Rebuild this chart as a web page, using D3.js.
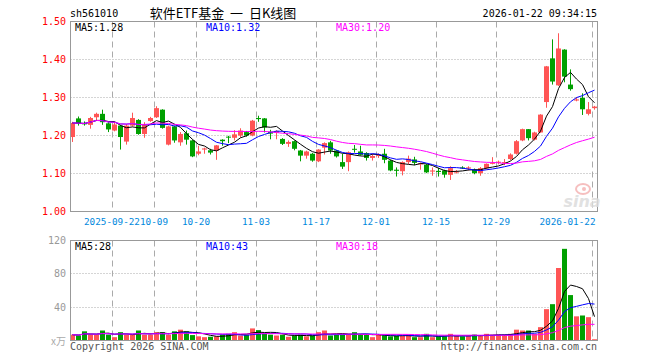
<!DOCTYPE html>
<html><head><meta charset="utf-8">
<script src="https://cdn.jsdelivr.net/npm/d3@7/dist/d3.min.js"></script>
<style>body{margin:0;background:#fff}svg{display:block}</style>
</head><body>
<svg id="chart" width="660" height="360"></svg>
<script>
const dates = ["2025-09-11","2025-09-12","2025-09-15","2025-09-16","2025-09-17","2025-09-18","2025-09-19","2025-09-22","2025-09-23","2025-09-24","2025-09-25","2025-09-26","2025-09-29","2025-09-30",
"2025-10-09","2025-10-10","2025-10-13","2025-10-14","2025-10-15","2025-10-16","2025-10-17","2025-10-20","2025-10-21","2025-10-22","2025-10-23","2025-10-24","2025-10-27","2025-10-28","2025-10-29","2025-10-30","2025-10-31",
"2025-11-03","2025-11-04","2025-11-05","2025-11-06","2025-11-07","2025-11-10","2025-11-11","2025-11-12","2025-11-13","2025-11-14","2025-11-17","2025-11-18","2025-11-19","2025-11-20","2025-11-21","2025-11-24","2025-11-25","2025-11-26","2025-11-27","2025-11-28",
"2025-12-01","2025-12-02","2025-12-03","2025-12-04","2025-12-05","2025-12-08","2025-12-09","2025-12-10","2025-12-11","2025-12-12","2025-12-15","2025-12-16","2025-12-17","2025-12-18","2025-12-19","2025-12-22","2025-12-23","2025-12-24","2025-12-25","2025-12-26","2025-12-29","2025-12-30","2025-12-31",
"2026-01-05","2026-01-06","2026-01-07","2026-01-08","2026-01-09","2026-01-12","2026-01-13","2026-01-14","2026-01-15","2026-01-16","2026-01-19","2026-01-20","2026-01-21","2026-01-22"];

const open  = [1.196,1.245,1.232,1.228,1.248,1.257,1.232,1.213,1.226,1.184,1.226,1.241,1.204,1.238,1.248,1.268,1.176,1.224,1.182,1.206,1.187,1.152,1.163,1.161,1.160,1.189,1.197,1.194,1.200,1.209,1.200,1.246,1.245,1.210,1.207,1.191,1.178,1.185,1.1605,1.147,1.152,1.132,1.168,1.182,1.1605,1.130,1.130,1.165,1.158,1.154,1.141,1.146,1.152,1.134,1.110,1.106,1.130,1.137,1.124,1.123,1.105,1.107,1.108,1.0965,1.103,1.116,1.113,1.110,1.101,1.114,1.1255,1.128,1.128,1.138,1.152,1.187,1.2167,1.189,1.208,1.288,1.403,1.332,1.426,1.334,1.292,1.299,1.257,1.272];
const high  = [1.236,1.250,1.237,1.249,1.260,1.268,1.235,1.235,1.228,1.230,1.260,1.243,1.235,1.249,1.277,1.269,1.226,1.226,1.209,1.213,1.189,1.173,1.168,1.165,1.175,1.190,1.199,1.214,1.219,1.212,1.241,1.252,1.246,1.215,1.214,1.193,1.187,1.187,1.162,1.160,1.154,1.164,1.182,1.186,1.162,1.152,1.158,1.175,1.173,1.156,1.151,1.153,1.165,1.136,1.116,1.132,1.147,1.144,1.129,1.125,1.116,1.115,1.110,1.119,1.109,1.119,1.119,1.113,1.117,1.1265,1.143,1.134,1.138,1.153,1.188,1.218,1.217,1.210,1.256,1.383,1.453,1.469,1.427,1.374,1.301,1.311,1.288,1.278];
const low   = [1.183,1.226,1.226,1.218,1.238,1.228,1.209,1.211,1.163,1.176,1.224,1.202,1.194,1.236,1.246,1.218,1.174,1.181,1.173,1.176,1.143,1.148,1.152,1.150,1.136,1.173,1.180,1.187,1.195,1.197,1.198,1.236,1.208,1.190,1.190,1.175,1.170,1.161,1.132,1.139,1.131,1.130,1.150,1.152,1.142,1.112,1.106,1.155,1.147,1.134,1.134,1.141,1.127,1.106,1.092,1.095,1.125,1.122,1.110,1.101,1.094,1.092,1.089,1.083,1.100,1.112,1.108,1.098,1.094,1.111,1.124,1.124,1.122,1.135,1.150,1.185,1.187,1.187,1.207,1.273,1.334,1.3305,1.340,1.318,1.290,1.254,1.253,1.268];
const close = [1.233,1.232,1.230,1.246,1.257,1.235,1.216,1.229,1.196,1.226,1.246,1.204,1.228,1.246,1.272,1.220,1.224,1.187,1.204,1.189,1.145,1.158,1.166,1.155,1.174,1.185,1.195,1.203,1.213,1.200,1.239,1.243,1.221,1.205,1.212,1.178,1.183,1.165,1.147,1.158,1.134,1.163,1.180,1.1605,1.145,1.118,1.156,1.163,1.149,1.141,1.146,1.149,1.136,1.108,1.107,1.130,1.139,1.128,1.127,1.103,1.108,1.104,1.097,1.114,1.105,1.114,1.116,1.101,1.114,1.1255,1.128,1.131,1.130,1.150,1.185,1.2167,1.193,1.208,1.255,1.382,1.342,1.429,1.355,1.322,1.295,1.269,1.269,1.276];
const volume = [7,6,11,7,7,12,7,4,10,7,7,12,7,7,10,10,7,11,13,11,6.5,5,4,4.5,5,7,8,10,6,7,14.5,12.5,8,7,6,7,4.5,6,7,5,6,10,12,6,7,7,7,10,7,7,4,7,6,5,5.5,5.5,7,4,4,8,4,5,5,8,5.5,5,5.5,7,6,8,6,7,7,8,13,12,12,8,16,37.6,43.6,87,110,54.5,29,30,28,1.5];

const priceTicks = [1.00,1.10,1.20,1.30,1.40,1.50];
const volumeTicks = [40,80,120];
const dateTicks = ["2025-09-22","2025-10-09","2025-10-20","2025-11-03","2025-11-17","2025-12-01","2025-12-15","2025-12-29","2026-01-22"];
const dateTickLabels = ["2025-09-22","10-09","10-20","11-03","11-17","12-01","12-15","12-29","2026-01-22"];
const priceLegend = [["MA5",1.28],["MA10",1.32],["MA30",1.20]];
const volumeLegend = [["MA5",28],["MA10",43],["MA30",18]];
const maPeriods = [5,10,30];

const UP = "#ff5555", DOWN = "#00a000";
const maColors = ["#000000","#0000ff","#ff00ff"];
const MONO = "'DejaVu Sans Mono', monospace";
const FS = 10;

const svg = d3.select("#chart");
const L = 70.5, R = 597.5;
const x = d3.scaleBand().domain(d3.range(dates.length)).range([69, 597]);
const yP = d3.scaleLinear().domain([1.0, 1.5]).range([211.5, 21.5]);
const yV = d3.scaleLinear().domain([0, 120]).range([340.5, 240.5]);

function ma(arr, n) { return arr.map((_, i) => d3.mean(arr.slice(Math.max(0, i - n + 1), i + 1))); }

// header
svg.append("text").attr("x", 70).attr("y", 17).attr("font-family", MONO).attr("font-size", FS).attr("fill", "#000").text("sh561010");
svg.append("text").attr("x", 223).attr("y", 18).attr("text-anchor", "middle").attr("font-family", "'Noto Sans CJK SC', sans-serif").attr("font-size", 13).attr("fill", "#000").attr("xml:space", "preserve").style("white-space", "pre").text("软件ETF基金  一  日K线图");
svg.append("text").attr("x", 597).attr("y", 17).attr("text-anchor", "end").attr("font-family", MONO).attr("font-size", FS).attr("fill", "#000").text("2026-01-22 09:34:15");

// panels
function panel(y0, y1, yScale, ticks, tickColor, fmt) {
  const g = svg.append("g");
  ticks.forEach(t => {
    const yy = Math.round(yScale(t) - 0.5) + 0.5;
    if (yy > y0 + 1 && yy < y1 - 1) {
      g.append("line").attr("x1", L).attr("x2", R).attr("y1", yy).attr("y2", yy)
        .attr("stroke", "#aaa").attr("stroke-dasharray", "1,2");
    }
    g.append("text").attr("x", 66).attr("y", yScale(t) + 3.5).attr("text-anchor", "end")
      .attr("font-family", MONO).attr("font-size", FS).attr("fill", tickColor).text(fmt(t));
  });
  dateTicks.forEach(d => {
    const i = dates.indexOf(d);
    const xx = x(i) + 1.5;
    g.append("line").attr("x1", xx).attr("x2", xx).attr("y1", y0).attr("y2", y1)
      .attr("stroke", "#aaa").attr("stroke-dasharray", "6,4");
  });
  g.append("rect").attr("x", L).attr("y", y0).attr("width", R - L).attr("height", y1 - y0)
    .attr("fill", "none").attr("stroke", "#999");
}
panel(21.5, 211.5, yP, priceTicks, "#ff0000", d3.format(".2f"));
panel(240.5, 340.5, yV, volumeTicks, "#999", d3.format("d"));
svg.append("text").attr("x", 66).attr("y", 345).attr("text-anchor", "end").attr("font-family", "'Noto Sans CJK SC', sans-serif").attr("font-size", 10).attr("fill", "#aaa").text("x万");

// date labels
svg.append("g").selectAll("text").data(dateTicks).join("text")
  .attr("font-family", MONO).attr("font-size", 9.3).attr("fill", "#0088dd")
  .attr("y", 225).attr("text-anchor", "middle")
  .text((d, k) => dateTickLabels[k])
  .attr("x", function(d) {
    const cx = x(dates.indexOf(d)) + 1;
    const w = this.getComputedTextLength();
    return Math.min(cx, R - 2 - w / 2);
  });

// watermark
const wm = svg.append("g").attr("opacity", 0.85);
wm.append("ellipse").attr("cx", 583).attr("cy", 189).attr("rx", 7).attr("ry", 5).attr("fill", "none").attr("stroke", "#f5b5b5").attr("stroke-width", 2);
wm.append("circle").attr("cx", 584).attr("cy", 189).attr("r", 2).attr("fill", "#f5b5b5");
wm.append("text").attr("x", 582).attr("y", 207).attr("text-anchor", "middle").attr("font-family", "'DejaVu Sans', sans-serif").attr("font-weight", "bold").attr("font-style", "italic").attr("font-size", 16).attr("fill", "#dcdcdc").text("sina");

// clip
svg.append("clipPath").attr("id", "cp").append("rect").attr("x", 71).attr("y", 22).attr("width", 526).attr("height", 189);
svg.append("clipPath").attr("id", "cv").append("rect").attr("x", 71).attr("y", 241).attr("width", 526).attr("height", 99);

// candles
const idx = d3.range(dates.length);
const col = i => close[i] >= open[i] ? UP : DOWN;
const cg = svg.append("g").attr("clip-path", "url(#cp)");
cg.selectAll("line.w").data(idx).join("line").attr("class", "w")
  .attr("x1", i => x(i) + 3.5).attr("x2", i => x(i) + 3.5)
  .attr("y1", i => yP(high[i])).attr("y2", i => yP(low[i]))
  .attr("stroke", col).attr("stroke-width", 1);
cg.selectAll("rect.b").data(idx).join("rect").attr("class", "b")
  .attr("x", i => x(i) + 1).attr("width", 5)
  .attr("y", i => yP(Math.max(open[i], close[i])))
  .attr("height", i => Math.max(1, Math.abs(yP(open[i]) - yP(close[i]))))
  .attr("fill", col);

// volume bars
const vg = svg.append("g").attr("clip-path", "url(#cv)");
vg.selectAll("rect").data(idx).join("rect")
  .attr("x", i => x(i) + 1).attr("width", 5)
  .attr("y", i => yV(volume[i])).attr("height", i => yV(0) - yV(volume[i]))
  .attr("fill", col);

// MA lines
maPeriods.forEach((n, k) => {
  const pm = ma(close, n), vm = ma(volume, n);
  cg.append("path").datum(pm).attr("fill", "none").attr("stroke", maColors[k]).attr("stroke-width", 1)
    .attr("d", d3.line().x((d, i) => x(i) + 3.5).y(d => yP(d)));
  vg.append("path").datum(vm).attr("fill", "none").attr("stroke", maColors[k]).attr("stroke-width", 1)
    .attr("d", d3.line().x((d, i) => x(i) + 3.5).y(d => yV(d)));
});

// legends
const lx = [75, 206, 336];
priceLegend.forEach((d, k) => {
  svg.append("text").attr("x", lx[k]).attr("y", 30.5).attr("font-family", MONO).attr("font-size", FS)
    .attr("fill", maColors[k]).text(d[0] + ":" + d3.format(".2f")(d[1]));
});
volumeLegend.forEach((d, k) => {
  svg.append("text").attr("x", lx[k]).attr("y", 249.5).attr("font-family", MONO).attr("font-size", FS)
    .attr("fill", maColors[k]).text(d[0] + ":" + d[1]);
});

// footer
svg.append("text").attr("x", 70).attr("y", 349.5).attr("font-family", MONO).attr("font-size", FS).attr("fill", "#555").text("Copyright 2026 SINA.COM");
svg.append("text").attr("x", 597).attr("y", 349.5).attr("text-anchor", "end").attr("font-family", MONO).attr("font-size", FS).attr("fill", "#555").text("http://finance.sina.com.cn");
</script>
</body></html>
